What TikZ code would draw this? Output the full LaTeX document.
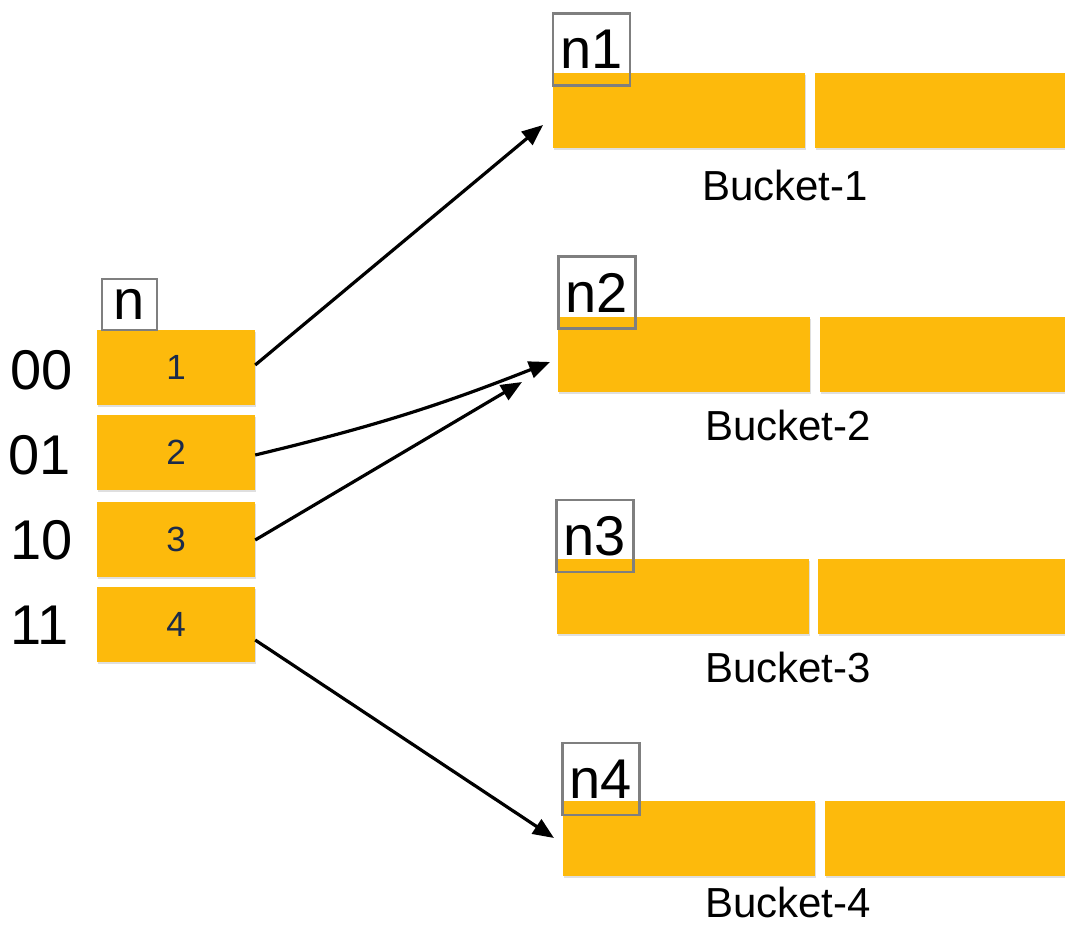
\documentclass[tikz,border=0pt]{standalone}
\usepackage{fontspec}
\setmainfont{Liberation Sans}
\usetikzlibrary{arrows.meta, positioning, shadows}
\definecolor{amber}{HTML}{FDBA0C}
\definecolor{tagGray}{HTML}{7F7F7F}
\definecolor{navy}{HTML}{1B2A4A}
\tikzset{
  slot/.style={fill=amber, minimum width=158pt, minimum height=75pt, inner sep=0pt,
    font=\fontsize{35}{37}\selectfont, text=navy,
    drop shadow={shadow xshift=0.5pt, shadow yshift=-2pt, opacity=0.25}},
  cell/.style={fill=amber, minimum width=252pt, minimum height=75pt, inner sep=0pt,
    drop shadow={shadow xshift=0.5pt, shadow yshift=-2pt, opacity=0.25}},
  tag/.style={draw=tagGray, line width=2.5pt, inner sep=0pt, font=\fontsize{56}{58}\selectfont},
  bits/.style={font=\fontsize{56}{58}\selectfont},
  caption/.style={font=\fontsize{42}{44}\selectfont, inner sep=0pt},
  link/.style={line width=3.2pt, -{Triangle[length=21pt,width=17pt]}}
}

\begin{document}
\begin{tikzpicture}[x=1pt,y=-1pt]
\useasboundingbox (0,0) rectangle (1065,927);

% directory
\node[slot] (dir1) at (176,367) {1};
\node[slot] (dir2) at (176,452) {2};
\node[slot] (dir3) at (176,539) {3};
\node[slot] (dir4) at (176,624) {4};
\node[tag, minimum width=55pt, minimum height=51pt] (tagn) at (129.5,304.5) {n};

\node[bits] (b00) at (42,370) {00};
\node[bits] (b01) at (40,455) {01};
\node[bits] (b10) at (42,540) {10};
\node[bits] (b11) at (40,625) {11};

% buckets
\node[cell, anchor=north west] (k1a) at (553,73) {};
\node[cell, anchor=north west] (k1b) at (815,73) {};
\node[cell, anchor=north west] (k2a) at (558,317) {};
\node[cell, anchor=north west] (k2b) at (820,317) {};
\node[cell, anchor=north west] (k3a) at (557,559) {};
\node[cell, anchor=north west] (k3b) at (818,559) {};
\node[cell, anchor=north west] (k4a) at (563,801) {};
\node[cell, anchor=north west] (k4b) at (825,801) {};

\node[tag, minimum width=77pt, minimum height=72pt] (tag1) at (591.5,49.5) {n1};
\node[tag, minimum width=77pt, minimum height=72pt] (tag2) at (597,292.5) {n2};
\node[tag, minimum width=77pt, minimum height=72pt] (tag3) at (595,536) {n3};
\node[tag, minimum width=77pt, minimum height=72pt] (tag4) at (601,779) {n4};

\node[caption] (cap1) at (785,185) {Bucket-1};
\node[caption] (cap2) at (788,425) {Bucket-2};
\node[caption] (cap3) at (788,667) {Bucket-3};
\node[caption] (cap4) at (788,902) {Bucket-4};

% pointers
\coordinate (in1) at (543,125);
\coordinate (in2) at (550,362);
\coordinate (in3) at (522,382);
\coordinate (in4) at (554,838);
\draw[link] ([yshift=2pt]dir1.east) -- (in1);
\draw[link] ([yshift=-3pt]dir2.east) to[bend right=4] (in2);
\draw[link] ([yshift=-1pt]dir3.east) -- (in3);
\draw[link] ([yshift=-16pt]dir4.east) -- (in4);

\end{tikzpicture}
\end{document}
